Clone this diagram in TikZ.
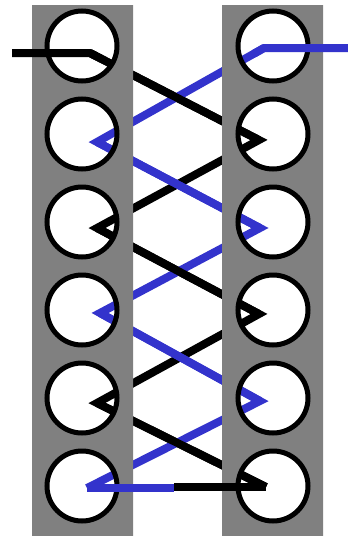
\documentclass[tikz,border=0pt]{standalone}
\usetikzlibrary{calc}
\definecolor{stripgray}{RGB}{128,128,128}
\definecolor{laceblue}{RGB}{51,51,204}
\tikzset{
  lace/.style={line width=8pt, draw=#1, line join=miter},
  strip/.style={fill=stripgray, even odd rule},
  eyelet/.style={circle, draw=black, line width=5pt, minimum size=70pt, inner sep=0pt}
}
\begin{document}
\begin{tikzpicture}[x=1pt,y=-1pt]
  \useasboundingbox (0,0) rectangle (348,536);
  \fill[white] (0,0) rectangle (348,536);

  % black lace points
  \coordinate (bs) at (12,53);
  \coordinate (b1) at (90,53);
  \coordinate (b2) at (259,140);
  \coordinate (b3) at (97,228);
  \coordinate (b4) at (259,314);
  \coordinate (b5) at (97,403);
  \coordinate (b6) at (266,487);
  \coordinate (be) at (174,487);

  % blue lace points
  \coordinate (us) at (348,48);
  \coordinate (u1) at (264,48);
  \coordinate (u2) at (97,142);
  \coordinate (u3) at (260,228);
  \coordinate (u4) at (100,313);
  \coordinate (u5) at (260,401);
  \coordinate (u6) at (87,488);
  \coordinate (ue) at (174,488);

  % zigzags under the strips
  \draw[lace=black] (b1) -- (b2) -- (b3) -- (b4) -- (b5) -- (b6);
  \draw[lace=laceblue] (u1) -- (u2) -- (u3) -- (u4) -- (u5) -- (u6);

  % downward crossings on top
  \draw[lace=black] (b1) -- (b2);
  \draw[lace=black] (b3) -- (b4);
  \draw[lace=black] (b5) -- (b6);
  \draw[lace=laceblue] (u2) -- (u3);
  \draw[lace=laceblue] (u4) -- (u5);

  % strips with holes
  \fill[strip] (32,5) rectangle (133,536) (222,5) rectangle (323,536)
    foreach \y in {46,134,222,310,398,486} {
      (82,\y) circle[radius=35pt] (273,\y) circle[radius=35pt]
    };

  % eyelets
  \foreach \i/\y in {1/46,2/134,3/222,4/310,5/398,6/486} {
    \node[eyelet] (l\i) at (82,\y) {};
    \node[eyelet] (r\i) at (273,\y) {};
  }

  % lace ends
  \draw[lace=black] (bs) -- (b1) -- ($(b1)!12pt!(b2)$);
  \draw[lace=black] (be) -- (b6);
  \draw[lace=laceblue] (us) -- (u1) -- ($(u1)!12pt!(u2)$);
  \draw[lace=laceblue] (u6) -- (ue);
\end{tikzpicture}
\end{document}
